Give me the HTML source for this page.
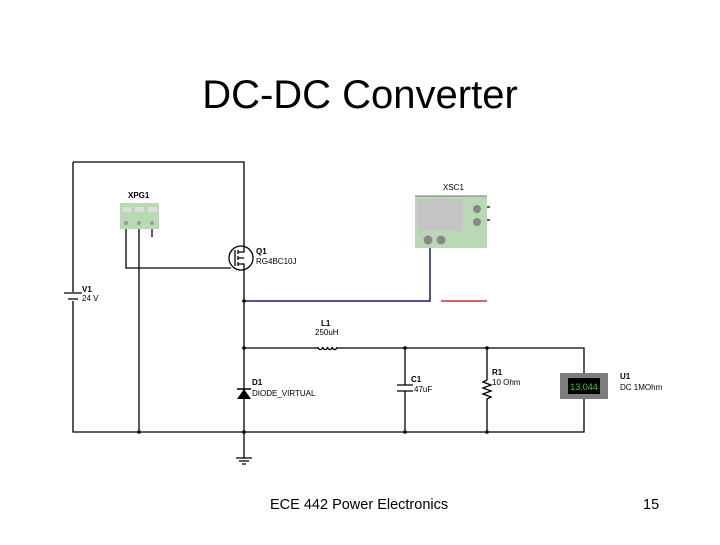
<!DOCTYPE html>
<html><head><style>
body{margin:0;background:#fff;}
svg text{font-family:"Liberation Sans",sans-serif;}
</style></head><body>
<svg width="720" height="540" viewBox="0 0 720 540" xmlns="http://www.w3.org/2000/svg">
<rect width="720" height="540" fill="#fff"/>
<text x="360" y="108" font-size="40" text-anchor="middle" fill="#000">DC-DC Converter</text>
<g stroke="#000" stroke-width="1.3" fill="none">
<path d="M73 162 H244 V246"/>
<path d="M244 270 V432"/>
<path d="M73 162 V292"/>
<path d="M73 301 V432 H584 V399"/>
<path d="M584 373 V348 H337"/>
<path d="M318 348 H244"/>
<path d="M126 229 V268 H231"/>
<path d="M139 229 V432"/>
<path d="M152 229 V237"/>
<path d="M405 348 V385"/>
<path d="M405 391 V432"/>
<path d="M244 432 V458"/>
<path d="M236 458 H252 M239 461 H249 M242 464 H246"/>
<path d="M64 293 H82 M68 299 H78"/>
<path d="M397 385 H413 M397 391 H413"/>
<path d="M477 207 H490 M477 220 H490"/>
<circle cx="241" cy="258" r="12"/>
<path d="M235 250 V266 M238 250 V254 M238 256 V260 M238 262 V266 M238 252 H244 V246 M238 264 H244 V270 M238 258 H244"/>
<path d="M487 348 V380 L483 382 L491 385 L483 388 L491 391 L483 394 L491 397 L487 399 V432"/>
<path d="M318 347 a2.4 3 0 0 0 4.75 0 a2.4 3 0 0 0 4.75 0 a2.4 3 0 0 0 4.75 0 a2.4 3 0 0 0 4.75 0"/>
</g>
<polygon points="237,399 251,399 244,389" fill="#000"/>
<path d="M237 389 H251" stroke="#000" stroke-width="1.5"/>
<path d="M244 301 H430 V248" stroke="#1a1a80" stroke-width="1.5" fill="none"/>
<path d="M441 301 H487" stroke="#c03030" stroke-width="1.5"/>
<g fill="#000">
<circle cx="244" cy="301" r="1.8"/><circle cx="244" cy="348" r="1.8"/><circle cx="405" cy="348" r="1.8"/>
<circle cx="487" cy="348" r="1.8"/><circle cx="139" cy="432" r="1.8"/><circle cx="244" cy="432" r="1.8"/>
<circle cx="405" cy="432" r="1.8"/><circle cx="487" cy="432" r="1.8"/>
</g>
<rect x="120" y="203" width="39" height="26" fill="#b9d9b5"/>
<rect x="122" y="207" width="9" height="5" fill="#ddd"/><rect x="135" y="207" width="9" height="5" fill="#ddd"/><rect x="148" y="207" width="9" height="5" fill="#ddd"/>
<circle cx="126" cy="223" r="2" fill="#999"/><circle cx="139" cy="223" r="2" fill="#999"/><circle cx="152" cy="223" r="2" fill="#999"/>
<text x="128" y="198" font-size="8" font-weight="bold">XPG1</text>
<rect x="415" y="196" width="72" height="52" fill="#b9d9b5"/>
<line x1="415" y1="196" x2="487" y2="196" stroke="#777" stroke-width="1"/>
<rect x="417" y="199" width="46" height="32" fill="#c4c4c4"/>
<circle cx="428" cy="240" r="4.5" fill="#888"/><circle cx="441" cy="240" r="4.5" fill="#888"/>
<circle cx="477" cy="209" r="4" fill="#888"/><circle cx="477" cy="222" r="4" fill="#888"/>
<text x="443" y="190" font-size="8">XSC1</text>
<rect x="560" y="373" width="48" height="26" fill="#7d7d7d"/>
<rect x="568" y="378" width="32" height="16" fill="#000"/>
<text x="584" y="390" font-size="9" fill="#3c3" text-anchor="middle">13.044</text>
<g font-size="8">
<text x="256" y="254" font-weight="bold">Q1</text><text x="256" y="264">RG4BC10J</text>
<text x="82" y="292" font-weight="bold">V1</text><text x="82" y="301">24 V</text>
<text x="321" y="326" font-weight="bold">L1</text><text x="315" y="335">250uH</text>
<text x="252" y="385" font-weight="bold">D1</text><text x="252" y="396">DIODE_VIRTUAL</text>
<text x="411" y="382" font-weight="bold">C1</text><text x="414" y="392">47uF</text>
<text x="492" y="375" font-weight="bold">R1</text><text x="492" y="385">10 Ohm</text>
<text x="620" y="379" font-weight="bold">U1</text><text x="620" y="390">DC 1MOhm</text>
</g>
<text x="270" y="509" font-size="14.5">ECE 442 Power Electronics</text>
<text x="643" y="509" font-size="14.5">15</text>
</svg>
</body></html>
